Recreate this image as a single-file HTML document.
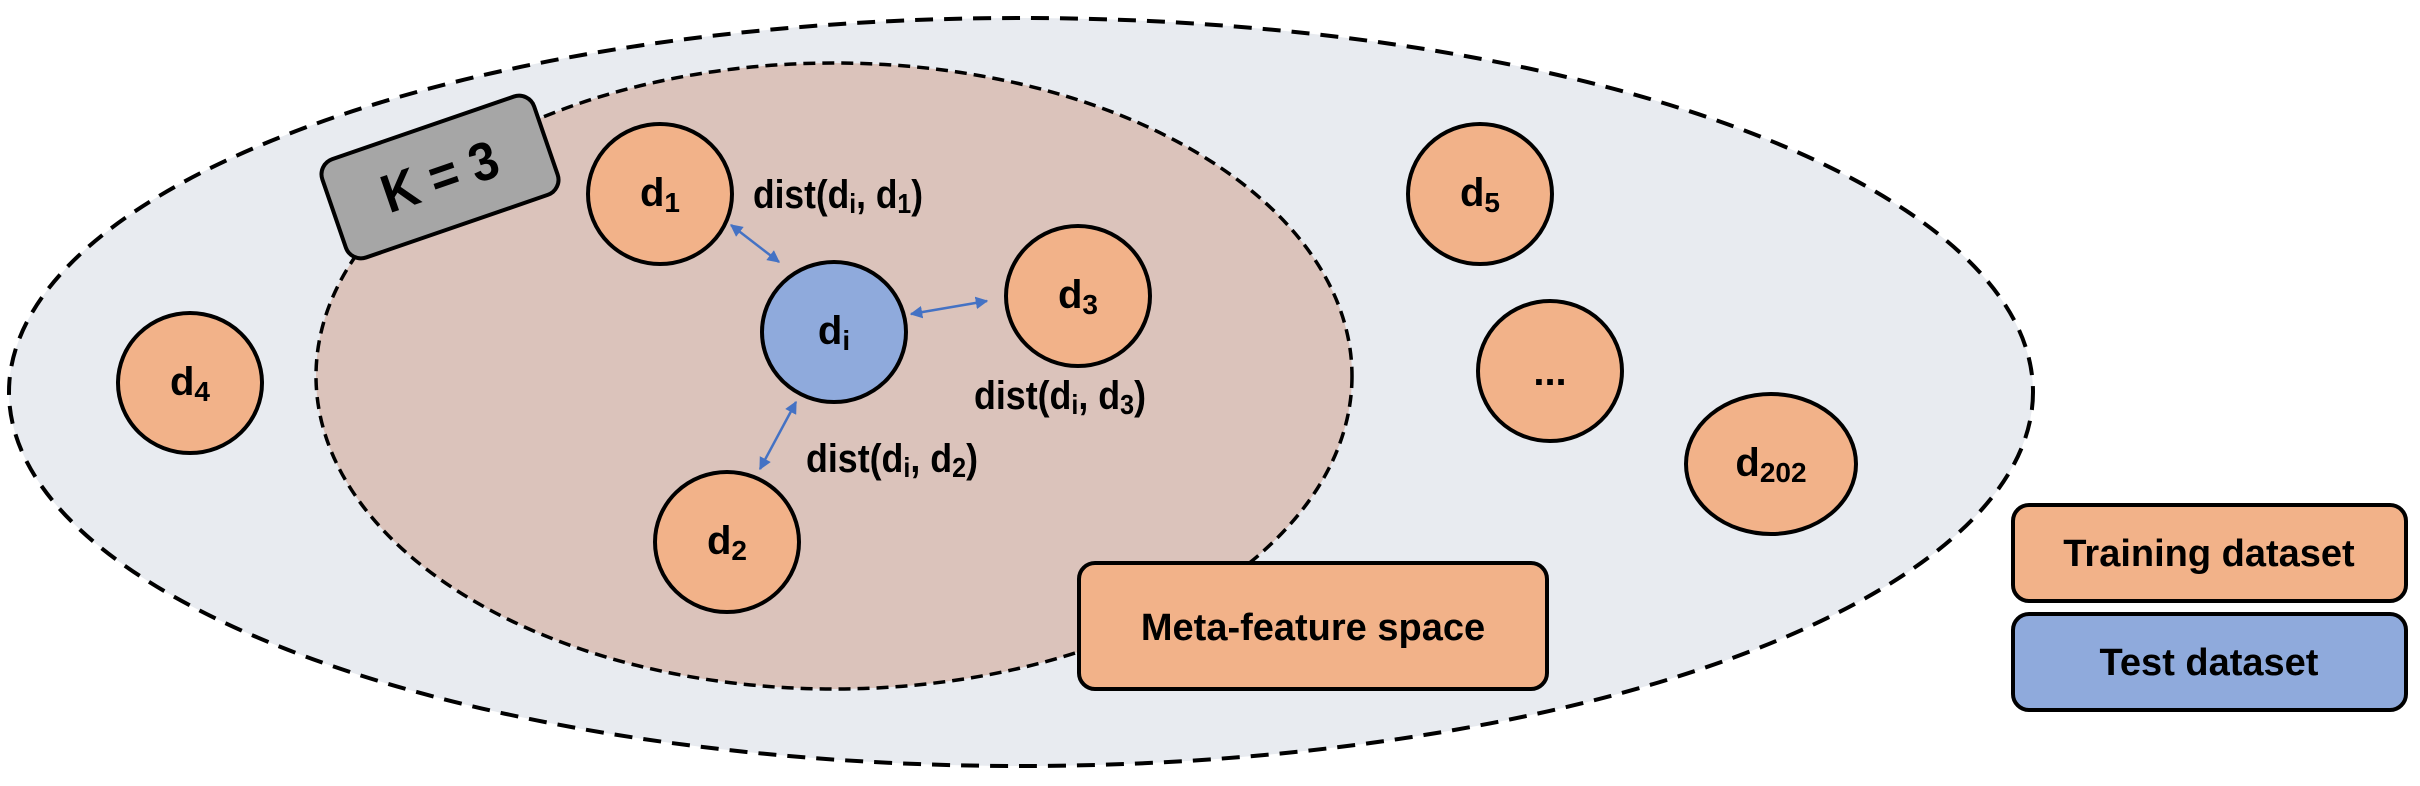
<!DOCTYPE html>
<html><head><meta charset="utf-8"><style>
html,body{margin:0;padding:0;background:#fff;}
svg{display:block;}
text{font-family:"Liberation Sans Narrow","Liberation Sans",sans-serif;font-weight:bold;fill:#000;}
</style></head><body>
<svg width="2420" height="786" viewBox="0 0 2420 786" xmlns="http://www.w3.org/2000/svg">
<defs>
<marker id="ah" viewBox="0 0 10 10" refX="9" refY="5" markerWidth="5" markerHeight="5" orient="auto-start-reverse"><path d="M0,0 L10,5 L0,10 z" fill="#4472c4"/></marker>
</defs>
<ellipse cx="1021" cy="392" rx="1012" ry="374" fill="#e8ebf0" stroke="#000" stroke-width="4" stroke-dasharray="18,11"/>
<ellipse cx="834" cy="376" rx="518" ry="313" fill="#dbc3bb" stroke="#000" stroke-width="3.5" stroke-dasharray="12,7"/>

<g transform="translate(440,177) rotate(-19)">
<rect x="-112" y="-52" width="224" height="104" rx="16" fill="#a6a6a6" stroke="#000" stroke-width="4"/>
<text x="0" y="18" font-size="54" text-anchor="middle" textLength="120" lengthAdjust="spacingAndGlyphs">K = 3</text>
</g>

<g stroke="#4472c4" stroke-width="2.5" fill="none">
<line x1="731" y1="225" x2="779" y2="262" marker-start="url(#ah)" marker-end="url(#ah)"/>
<line x1="911" y1="314" x2="987" y2="301" marker-start="url(#ah)" marker-end="url(#ah)"/>
<line x1="796" y1="402" x2="760" y2="469" marker-start="url(#ah)" marker-end="url(#ah)"/>
</g>

<g stroke="#000" stroke-width="4">
<ellipse cx="660" cy="194" rx="72" ry="70" fill="#f2b289"/>
<ellipse cx="834" cy="332" rx="72" ry="70" fill="#8faadc"/>
<ellipse cx="1078" cy="296" rx="72" ry="70" fill="#f2b289"/>
<ellipse cx="190" cy="383" rx="72" ry="70" fill="#f2b289"/>
<ellipse cx="727" cy="542" rx="72" ry="70" fill="#f2b289"/>
<ellipse cx="1480" cy="194" rx="72" ry="70" fill="#f2b289"/>
<ellipse cx="1550" cy="371" rx="72" ry="70" fill="#f2b289"/>
<ellipse cx="1771" cy="464" rx="85" ry="70" fill="#f2b289"/>
</g>

<g font-size="40" text-anchor="middle">
<text x="660" y="206">d<tspan font-size="28" dy="6">1</tspan></text>
<text x="834" y="344">d<tspan font-size="28" dy="6">i</tspan></text>
<text x="1078" y="308">d<tspan font-size="28" dy="6">3</tspan></text>
<text x="190" y="395">d<tspan font-size="28" dy="6">4</tspan></text>
<text x="727" y="554">d<tspan font-size="28" dy="6">2</tspan></text>
<text x="1480" y="206">d<tspan font-size="28" dy="6">5</tspan></text>
<text x="1550" y="385">...</text>
<text x="1771" y="476">d<tspan font-size="28" dy="6">202</tspan></text>
</g>

<g font-size="40">
<text x="753" y="208" textLength="170" lengthAdjust="spacingAndGlyphs">dist(d<tspan font-size="28" dy="5">i</tspan><tspan dy="-5">, d</tspan><tspan font-size="28" dy="5">1</tspan><tspan dy="-5">)</tspan></text>
<text x="974" y="409" textLength="172" lengthAdjust="spacingAndGlyphs">dist(d<tspan font-size="28" dy="5">i</tspan><tspan dy="-5">, d</tspan><tspan font-size="28" dy="5">3</tspan><tspan dy="-5">)</tspan></text>
<text x="806" y="472" textLength="172" lengthAdjust="spacingAndGlyphs">dist(d<tspan font-size="28" dy="5">i</tspan><tspan dy="-5">, d</tspan><tspan font-size="28" dy="5">2</tspan><tspan dy="-5">)</tspan></text>
</g>

<rect x="1079" y="563" width="468" height="126" rx="16" fill="#f2b289" stroke="#000" stroke-width="4"/>
<text x="1313" y="640" font-size="38" text-anchor="middle">Meta-feature space</text>

<rect x="2013" y="505" width="393" height="96" rx="16" fill="#f2b289" stroke="#000" stroke-width="4"/>
<text x="2209" y="566" font-size="38" text-anchor="middle">Training dataset</text>
<rect x="2013" y="614" width="393" height="96" rx="16" fill="#8faadc" stroke="#000" stroke-width="4"/>
<text x="2209" y="675" font-size="38" text-anchor="middle">Test dataset</text>
</svg>
</body></html>
